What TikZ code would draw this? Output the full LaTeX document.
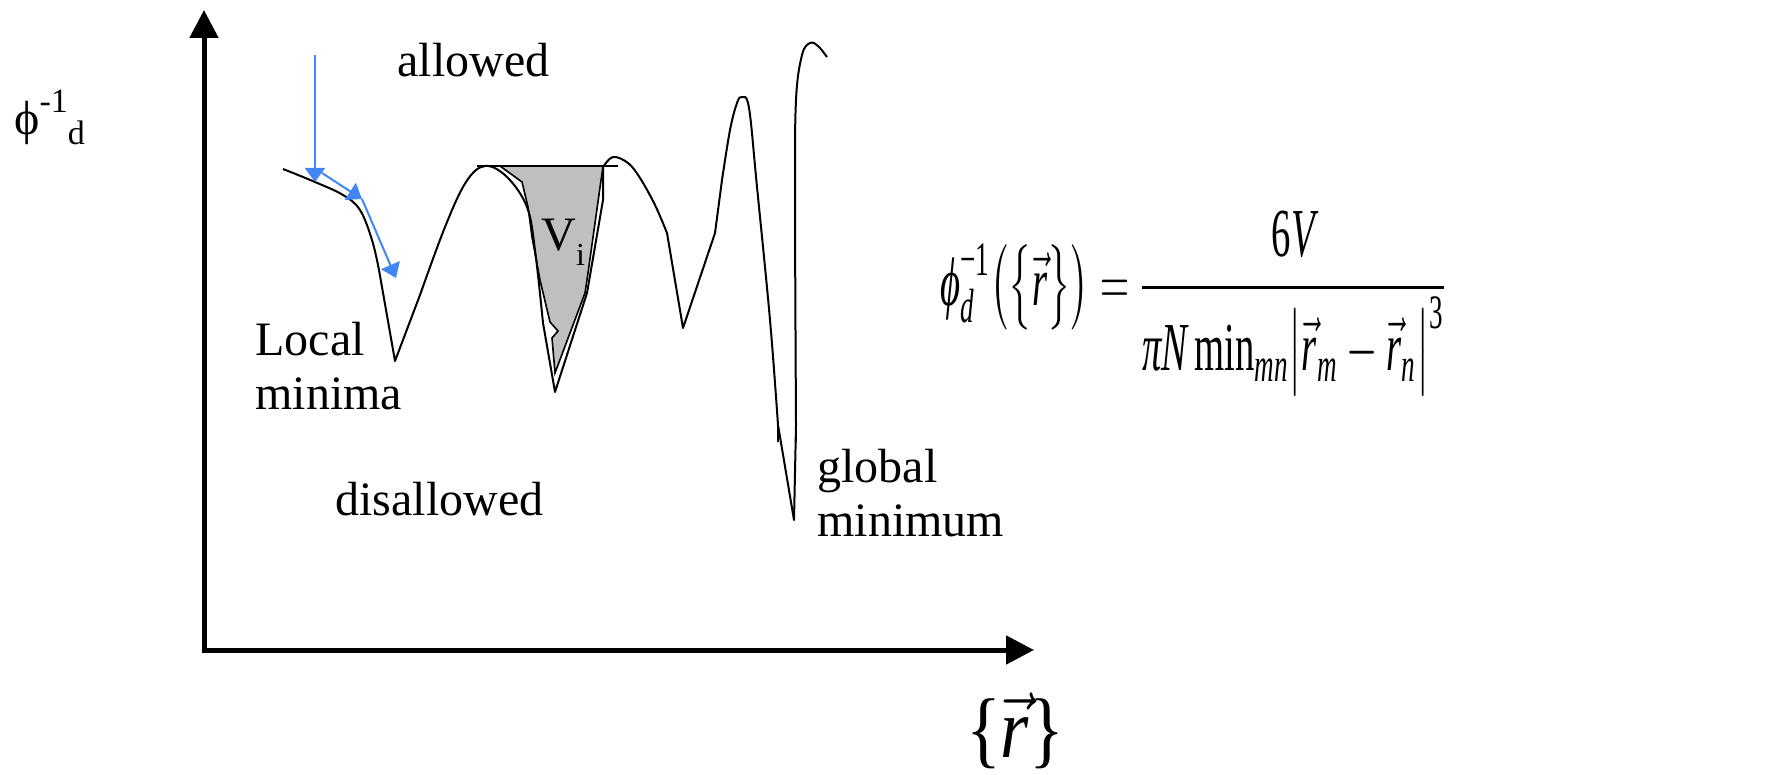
\documentclass[tikz,border=0pt]{standalone}
\usepackage{fontspec}
\setmainfont{Liberation Serif}
\usepackage{amsmath}
\usepackage{graphicx}
\usetikzlibrary{arrows.meta}
\definecolor{arrblue}{HTML}{4285F4}
\newcommand{\vit}[1]{\text{\itshape #1}}

\begin{document}
\begin{tikzpicture}[x=0.5pt, y=-0.5pt,
		ax/.style = {line width=2.5pt, {Triangle[length=14pt,width=14pt]}-{Triangle[length=14pt,width=14pt]}},
		cv/.style = {line width=1pt, line join=round},
		bl/.style = {draw=arrblue, line width=1pt, -{Triangle[length=7pt,width=10pt]}},
		lb/.style = {inner sep=0pt, font=\fontsize{24}{27}\selectfont},
		vi/.style = {draw, line width=0.8pt, fill=black!25}
		]

		\useasboundingbox (0,0) rectangle (1781,775);

		%Coordinates
		\coordinate (ytop)	at (204,10);
		\coordinate (o)		at (204,650);
		\coordinate (xend)	at (1034,650);
		\coordinate (b0)	at (315,55);
		\coordinate (b1)	at (315,182);
		\coordinate (b2)	at (322,173);
		\coordinate (b3)	at (362,199);
		\coordinate (b4)	at (396,278);

		%Shaded volume
		\draw[vi] (500,166) -- (522,182) -- (528,207) -- (532,237) -- (540,280) -- (550,322)
			-- (558,331) -- (552,338) -- (555,373) -- (585,293) -- (588,273) -- (603,166) -- cycle;
		\draw[cv] (477,166) -- (618,166);

		%Curve
		\draw[cv] plot[smooth, tension=0.6] coordinates {(283,169) (315,182) (343,195) (360,210) (372,240) (379,270)}
			-- (395,361)
			-- plot[smooth, tension=0.6] coordinates {(420,295) (445,227) (466,182) (485,166) (507,177) (527,207) (535,250) (543,323)}
			-- (555,392) -- (587,293) -- (603,200)
			-- plot[smooth, tension=0.6] coordinates {(603,167) (613,157) (628,163) (640,178) (655,205) (667,233)}
			-- (683,328) -- (715,233)
			-- plot[smooth, tension=0.6] coordinates {(722,180) (730,130) (737,103) (742,97) (749,108) (757,187) (770,320) (778,425)}
			-- (794,520)
			-- plot[smooth, tension=0.6] coordinates {(796,425) (795,200) (796,100) (802,55) (810,43) (818,46) (827,57)};
		\draw[cv] (778,425) -- (778,442);
		\draw[cv] (796,425) -- (796,442);

		%Arrows
		\draw[ax]	(ytop) -- (o) -- (xend);
		\draw[bl]	(b0) -- (b1);
		\draw[bl]	(b2) -- (b3);
		\draw[bl]	(b3) -- (b4);

		%Labels
		\node[lb, anchor=base west]	(allowed)		at (397,77)		{allowed};
		\node[lb, anchor=base west]	(disallowed)	at (335,515)	{disallowed};
		\node[lb, anchor=north west, align=left]	(locmin)	at (255,322)	{Local\\minima};
		\node[lb, anchor=north west, align=left]	(globmin)	at (817,449)	{global\\minimum};
		\node[lb, anchor=base west]	(vlab)			at (541,250)	{V\raisebox{-7.5pt}{\fontsize{16}{16}\selectfont i}};
		\node[lb, anchor=base west]	(ylab)			at (14,135)
			{ϕ\raisebox{11pt}{\fontsize{17}{17}\selectfont -1}\raisebox{-5pt}{\fontsize{17}{17}\selectfont d}};
		\node[inner sep=0pt]		(xlab)			at (1015,731)
			{\resizebox*{49pt}{38pt}{\fontsize{20}{24}\selectfont\{$\vec{\vit{r}}$\}}};
		\node[inner sep=0pt, anchor=base west]	(formula)	at (940,305)
			{\resizebox*{253pt}{92pt}{\fontsize{20}{24}\selectfont$\displaystyle
			\vit{ϕ}_{\vit{d}}^{\text{−1}}\bigl(\bigl\{\vec{\vit{r}}\bigr\}\bigr)=
			\frac{\text{6}\vit{V}}{\vit{π}\vit{N}\,\text{min}_{\vit{mn}}\bigl\lvert\vec{\vit{r}}_{\vit{m}}-\vec{\vit{r}}_{\vit{n}}\bigr\rvert^{\text{3}}}$}};
	\end{tikzpicture}
\end{document}
